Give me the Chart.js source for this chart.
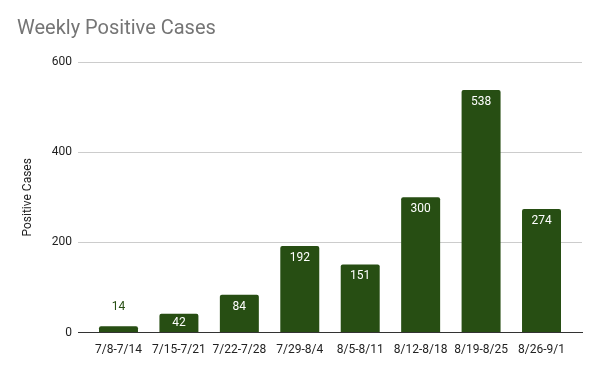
<!DOCTYPE html>
<html>
<head>
<meta charset="utf-8">
<script src="https://cdn.jsdelivr.net/npm/chart.js@4"></script>
<style>
  html, body { margin: 0; padding: 0; background: #fff; }
  canvas { display: block; }
</style>
</head>
<body>
<canvas id="cases-chart" width="600" height="371"></canvas>
<script>
var weeks = ['7/8-7/14', '7/15-7/21', '7/22-7/28', '7/29-8/4', '8/5-8/11', '8/12-8/18', '8/19-8/25', '8/26-9/1'];
var cases = [14, 42, 84, 192, 151, 300, 538, 274];
var yTicks = [0, 200, 400, 600];

var barGreen = '#274e13';

// value labels: inside the bar top in white, above it in green when the bar is short
var valueLabels = {
    id: 'valueLabels',
    afterDatasetsDraw: function (chart) {
        var ctx = chart.ctx,
            meta = chart.getDatasetMeta(0);
        ctx.save();
        ctx.font = '12px Roboto';
        ctx.textAlign = 'center';
        ctx.textBaseline = 'middle';
        meta.data.forEach(function (bar, i) {
            var h = bar.base - bar.y;
            if (h > 16) {
                ctx.fillStyle = '#ffffff';
                ctx.fillText(cases[i], bar.x, bar.y + Math.min(12, h / 2));
            } else {
                ctx.fillStyle = barGreen;
                ctx.fillText(cases[i], bar.x, bar.y - 19);
            }
        });
        ctx.restore();
    }
};

new Chart(document.getElementById('cases-chart'), {
    type: 'bar',
    data: {
        datasets: [
            {
                label: 'Positive Cases',
                data: cases.map(function (v, i) { return {x: i, y: v}; }),
                backgroundColor: barGreen,
                borderRadius: 2,
                barPercentage: 0.645,
                categoryPercentage: 1
            }
        ]
    },
    options: {
        responsive: false,
        animation: false,
        layout: {
            padding: {left: 17, right: 18, top: 0, bottom: 12}
        },
        plugins: {
            legend: {display: false},
            tooltip: {enabled: false},
            title: {
                display: true,
                text: 'Weekly Positive Cases',
                align: 'start',
                color: '#757575',
                font: {family: 'Roboto', size: 20, weight: 'normal'},
                padding: {top: 17, bottom: 21}
            }
        },
        scales: {
            x: {
                type: 'linear',
                offset: false,
                min: -0.67,
                max: 7.67,
                grid: {display: false},
                border: {display: true, color: '#333333', width: 1},
                afterBuildTicks: function (scale) {
                    scale.ticks = weeks.map(function (w, i) { return {value: i}; });
                },
                ticks: {
                    autoSkip: false,
                    maxRotation: 0,
                    padding: 2,
                    color: '#222222',
                    font: {family: 'Roboto', size: 12},
                    callback: function (v) { return weeks[v]; }
                }
            },
            y: {
                min: 0,
                max: 600,
                afterBuildTicks: function (scale) {
                    scale.ticks = yTicks.map(function (v) { return {value: v}; });
                },
                afterFit: function (scale) {
                    scale.width = 61;
                },
                border: {display: false},
                grid: {
                    drawTicks: false,
                    color: function (c) { return c.tick.value === 0 ? '#333333' : '#cccccc'; }
                },
                ticks: {
                    padding: 6,
                    color: '#222222',
                    font: {family: 'Roboto', size: 12}
                },
                title: {
                    display: true,
                    text: 'Positive Cases',
                    color: '#222222',
                    font: {family: 'Roboto', size: 12},
                    padding: {top: 4, bottom: 4}
                }
            }
        }
    },
    plugins: [valueLabels]
});
</script>
</body>
</html>
